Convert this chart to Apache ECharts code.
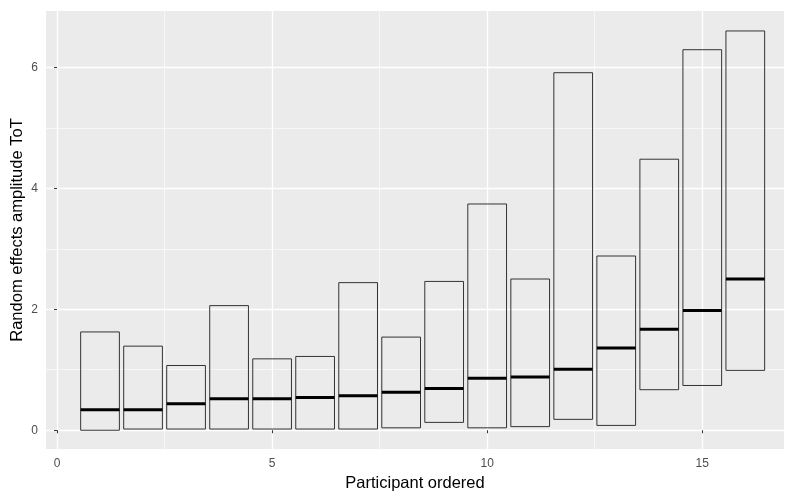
<!DOCTYPE html>
<html>
<head>
<meta charset="utf-8">
<script src="https://cdn.jsdelivr.net/npm/echarts@6/dist/echarts.min.js"></script>
<style>
html,body{margin:0;padding:0;background:#fff}
#chart{width:787px;height:493px}
</style>
</head>
<body>
<div id="chart"></div>
<script>
// participants, ordered by median
const participants = [1,2,3,4,5,6,7,8,9,10,11,12,13,14,15,16]
const lowerVals = [0.00,0.02,0.02,0.02,0.02,0.02,0.02,0.04,0.13,0.04,0.06,0.18,0.08,0.67,0.74,0.99]
const medianVals = [0.34,0.34,0.44,0.52,0.52,0.54,0.57,0.63,0.69,0.86,0.88,1.01,1.36,1.67,1.98,2.50]
const upperVals = [1.625,1.39,1.07,2.06,1.18,1.22,2.44,1.54,2.46,3.74,2.50,5.91,2.88,4.48,6.29,6.60]

const xMajor = [0,5,10,15]
const xMinor = [2.5,7.5,12.5]
const yMajor = [0,2,4,6]
const yMinor = [1,3,5]

const boxData = participants.map((p, i) => [p, lowerVals[i], medianVals[i], upperVals[i]])

const tickLabel = { color:'#4d4d4d', fontSize:12, fontFamily:'Liberation Sans, Arial, sans-serif' }
const titleFont = { color:'#000', fontSize:16.5, fontFamily:'Liberation Sans, Arial, sans-serif' }

function majorAxis(vals, margin, extra) {
  return Object.assign({
    type:'value',
    axisLine:{show:false},
    axisTick:{show:true, customValues:vals, length:3, lineStyle:{color:'#333', width:1}},
    axisLabel:Object.assign({customValues:vals, margin:margin}, tickLabel),
    splitLine:{show:true, lineStyle:{color:'#fff', width:1.3}}
  }, extra)
}
function minorAxis(vals, extra) {
  return Object.assign({
    type:'value',
    axisLine:{show:false},
    axisTick:{show:false, customValues:vals},
    axisLabel:{show:false, customValues:vals},
    splitLine:{show:true, lineStyle:{color:'#fff', width:0.6}}
  }, extra)
}

const chart = echarts.init(document.getElementById('chart'))
chart.setOption({
  animation:false,
  grid:{left:46, right:3, top:11, bottom:44, show:true, backgroundColor:'#ebebeb', borderWidth:0,
    containLabel:false, outerBoundsMode:'none'},
  xAxis:[
    minorAxis(xMinor, {min:-0.256, max:16.9, position:'bottom'}),
    majorAxis(xMajor, 9, {min:-0.256, max:16.9, position:'bottom',
      name:'Participant ordered', nameLocation:'middle', nameGap:26, nameTextStyle:titleFont})
  ],
  yAxis:[
    minorAxis(yMinor, {min:-0.31, max:6.93, position:'left'}),
    majorAxis(yMajor, 8, {min:-0.31, max:6.93, position:'left', nameMoveOverlap:false,
      name:'Random effects amplitude ToT', nameLocation:'middle', nameGap:20, nameTextStyle:titleFont})
  ],
  series:[{
    type:'custom',
    xAxisIndex:1,
    yAxisIndex:1,
    data:boxData,
    renderItem:function(params, api){
      const x = api.value(0)
      const lo = api.coord([x - 0.45, api.value(1)])
      const hi = api.coord([x + 0.45, api.value(3)])
      const midL = api.coord([x - 0.45, api.value(2)])
      const midR = api.coord([x + 0.45, api.value(2)])
      return {
        type:'group',
        children:[
          {type:'rect', shape:{x:lo[0], y:hi[1], width:hi[0]-lo[0], height:lo[1]-hi[1]},
           style:{fill:'none', stroke:'#333', lineWidth:1}},
          {type:'line', shape:{x1:midL[0], y1:midL[1], x2:midR[0], y2:midR[1]},
           style:{stroke:'#000', lineWidth:3}}
        ]
      }
    }
  }]
})
</script>
</body>
</html>
